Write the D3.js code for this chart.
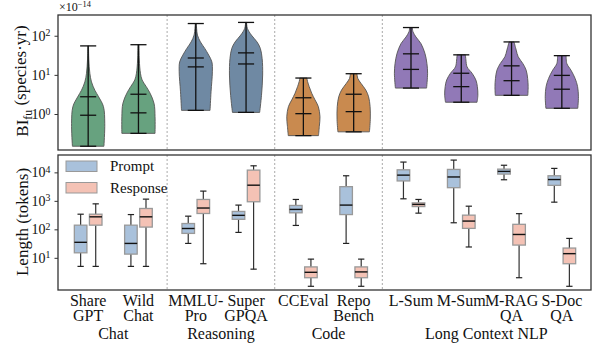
<!DOCTYPE html>
<html>
<head>
<meta charset="utf-8">
<script src="https://cdn.jsdelivr.net/npm/d3@7"></script>
<style>
  body { margin: 0; background: #fff; }
  svg { display: block; font-family: 'Liberation Serif', 'Times New Roman', serif; }
</style>
</head>
<body>
<div id="chart"></div>
<script>
// benchmark names (split over two lines) and their group
const categories = [['Share', 'GPT'], ['Wild', 'Chat'], ['MMLU-', 'Pro'], ['Super', 'GPQA'],
  ['CCEval'], ['Repo', 'Bench'], ['L-Sum'], ['M-Sum'], ['M-RAG', 'QA'], ['S-Doc', 'QA']];
const groupNames = ['Chat', 'Reasoning', 'Code', 'Long Context NLP'];
const groupOf = [0, 0, 1, 1, 2, 2, 3, 3, 3, 3];
const groupColors = ['#67a27f', '#6f89a3', '#c98a4f', '#9179b7'];

// violin outlines: [value (x1e-14 species*yr), relative density], bottom to top
const violinShape = [
  [[0.15, 0.95], [0.575, 1.0], [1.55, 0.92], [2.75, 0.63], [4.07, 0.40], [6.6, 0.20], [11, 0.10], [24, 0.04], [55, 0.02]],
  [[0.32, 1.0], [0.85, 1.0], [1.86, 0.94], [3.4, 0.70], [5.0, 0.47], [7.4, 0.22], [11, 0.12], [24, 0.05], [59, 0.03]],
  [[1.24, 0.86], [3.7, 0.92], [12, 1.0], [21.5, 0.97], [32, 0.78], [47.5, 0.54], [69.5, 0.28], [104, 0.10], [154, 0.05], [205, 0.03]],
  [[1.1, 0.82], [3.0, 0.93], [9.9, 1.0], [26, 0.97], [47.5, 0.86], [69.5, 0.66], [104, 0.32], [154, 0.08], [219, 0.03]],
  [[0.28, 0.91], [0.48, 0.96], [0.85, 1.0], [1.55, 0.9], [2.3, 0.7], [3.4, 0.5], [5.0, 0.35], [7.4, 0.23], [8.3, 0.22]],
  [[0.35, 0.95], [0.71, 1.0], [1.55, 0.99], [2.75, 0.9], [4.1, 0.73], [6.0, 0.45], [8.1, 0.25], [10.7, 0.2]],
  [[4.6, 0.94], [11, 1.0], [19.5, 0.96], [35.5, 0.84], [63, 0.6], [93, 0.3], [126, 0.12], [162, 0.08]],
  [[2.0, 0.95], [3.0, 1.0], [5.0, 0.97], [7.4, 0.88], [11, 0.65], [16, 0.35], [24, 0.28], [32.5, 0.25]],
  [[3.0, 0.98], [5.0, 1.0], [8.1, 0.97], [13.2, 0.88], [19.5, 0.68], [29, 0.4], [43, 0.28], [69.5, 0.15]],
  [[1.4, 0.96], [2.75, 1.0], [5.0, 0.95], [8.1, 0.8], [13.2, 0.55], [19.5, 0.3], [31, 0.26]]
];
const violinUpper = [2.76, 3.2, 27, 36.5, 2.6, 3.2, 34.5, 11, 17, 9.7];
const violinLower = [0.93, 1.07, 16, 19, 1.02, 1.15, 13.8, 5.0, 7.1, 4.3];

// token lengths: [whisker low, q1, median, q3, whisker high]
const promptStats = [
  [5, 15, 35, 140, 340], [5, 13.5, 32, 140, 330], [32, 72, 107, 160, 290], [78, 225, 310, 425, 710],
  [137, 380, 500, 690, 1120], [32, 330, 710, 3150, 7600], [1180, 5000, 8000, 12300, 23000],
  [170, 2900, 6900, 12700, 27000], [5500, 8700, 10800, 13000, 17800], [900, 3500, 5600, 7600, 13800]
];
const responseStats = [
  [5, 140, 275, 340, 785], [5, 120, 275, 540, 1150], [6.2, 360, 560, 1120, 2200], [4, 930, 3550, 12000, 17000],
  [1.0, 2, 3.1, 4.8, 9], [1.0, 2, 3.2, 4.8, 9], [370, 630, 750, 850, 1120],
  [24, 108, 195, 315, 650], [2, 28, 66, 150, 355], [1, 6.2, 14, 22, 48]
];
const seriesNames = ['Prompt', 'Response'];
const seriesColors = ['#a9c1db', '#f4c2b5'];

const topTicks = [1, 10, 100];
const bottomTicks = [10, 100, 1000, 10000];

const W = 597, H = 345;
const left = 58, right = 591;
const topPanel = { y0: 15, y1: 150 };
const botPanel = { y0: 155, y1: 290 };

const svg = d3.select('#chart').append('svg').attr('width', W).attr('height', H);

const xPos = categories.map((c, i) => i + groupOf[i] * 0.14);
const x = d3.scaleLinear().domain([-0.6, 10]).range([left, right]);
const yTop = d3.scaleLog().domain([10 ** -0.92, 10 ** 2.53]).range([topPanel.y1, topPanel.y0]);
const yBot = d3.scaleLog().domain([10 ** -0.13, 10 ** 4.61]).range([botPanel.y1, botPanel.y0]);

const unit = x(1) - x(0);

// dashed group separators
const seps = [];
for (let i = 1; i < categories.length; i++) {
  if (groupOf[i] !== groupOf[i - 1]) seps.push((xPos[i] + xPos[i - 1]) / 2);
}
[topPanel, botPanel].forEach((p) => {
  svg.append('g').selectAll('line').data(seps).enter().append('line')
    .attr('x1', (d) => x(d)).attr('x2', (d) => x(d))
    .attr('y1', p.y0).attr('y2', p.y1)
    .attr('stroke', '#aaa').attr('stroke-width', 1).attr('stroke-dasharray', '2,2');
});

// violins
const halfW = 0.33 * unit;
const capW = 0.16 * unit;
const vg = svg.append('g');
violinShape.forEach((shape, i) => {
  const cx = x(xPos[i]);
  const area = d3.area()
    .y((d) => yTop(d[0]))
    .x0((d) => cx - halfW * d[1])
    .x1((d) => cx + halfW * d[1])
    .curve(d3.curveCatmullRom.alpha(0.5));
  vg.append('path').attr('d', area(shape))
    .attr('fill', groupColors[groupOf[i]])
    .attr('stroke', '#555').attr('stroke-width', 0.9);
  const lo = shape[0][0], hi = shape[shape.length - 1][0];
  vg.append('line').attr('x1', cx).attr('x2', cx).attr('y1', yTop(lo)).attr('y2', yTop(hi))
    .attr('stroke', '#111').attr('stroke-width', 1.3);
  [lo, hi, violinUpper[i], violinLower[i]].forEach((v) => {
    vg.append('line').attr('x1', cx - capW).attr('x2', cx + capW)
      .attr('y1', yTop(v)).attr('y2', yTop(v))
      .attr('stroke', '#111').attr('stroke-width', 1.3);
  });
});

// box plots
const boxW = 0.25 * unit;
const boxOff = 0.15 * unit;
const bg = svg.append('g');
[promptStats, responseStats].forEach((stats, s) => {
  stats.forEach((st, i) => {
    const cx = x(xPos[i]) + (s === 0 ? -boxOff : boxOff);
    const [lo, q1, med, q3, hi] = st;
    bg.append('line').attr('x1', cx).attr('x2', cx).attr('y1', yBot(lo)).attr('y2', yBot(q1))
      .attr('stroke', '#333').attr('stroke-width', 1.2);
    bg.append('line').attr('x1', cx).attr('x2', cx).attr('y1', yBot(q3)).attr('y2', yBot(hi))
      .attr('stroke', '#333').attr('stroke-width', 1.2);
    [lo, hi].forEach((v) => {
      bg.append('line').attr('x1', cx - boxW / 4).attr('x2', cx + boxW / 4)
        .attr('y1', yBot(v)).attr('y2', yBot(v))
        .attr('stroke', '#222').attr('stroke-width', 1.2);
    });
    bg.append('rect').attr('x', cx - boxW / 2).attr('width', boxW)
      .attr('y', yBot(q3)).attr('height', yBot(q1) - yBot(q3))
      .attr('fill', seriesColors[s]).attr('stroke', '#999').attr('stroke-width', 1.3);
    bg.append('line').attr('x1', cx - boxW / 2).attr('x2', cx + boxW / 2)
      .attr('y1', yBot(med)).attr('y2', yBot(med))
      .attr('stroke', '#111').attr('stroke-width', 1.4);
  });
});

// panel frames
[topPanel, botPanel].forEach((p) => {
  svg.append('rect').attr('x', left).attr('y', p.y0)
    .attr('width', right - left).attr('height', p.y1 - p.y0)
    .attr('fill', 'none').attr('stroke', '#333').attr('stroke-width', 1.3);
});

// log axes with 10^n labels
const drawAxis = (scale, ticks) => {
  const g = svg.append('g').attr('transform', 'translate(' + left + ',0)')
    .call(d3.axisLeft(scale).tickValues(ticks).tickSize(3.5).tickPadding(4));
  g.select('.domain').remove();
  g.selectAll('.tick line').attr('stroke', '#333');
  g.selectAll('.tick text').each(function (d) {
    const t = d3.select(this);
    t.text(null).attr('font-size', 14).attr('fill', '#111')
      .attr('font-family', "'Liberation Serif', serif");
    t.append('tspan').text('10');
    t.append('tspan').attr('dy', '-0.45em').attr('font-size', '0.7em')
      .text(Math.round(Math.log10(d)));
  });
};
drawAxis(yTop, topTicks);
drawAxis(yBot, bottomTicks);

// offset text above top axis
const off = svg.append('text').attr('x', 59).attr('y', 11).attr('font-size', 12).attr('fill', '#111');
off.append('tspan').text('\u00d710');
off.append('tspan').attr('dy', '-0.45em').attr('font-size', '0.7em').text('\u221214');

// y labels
const yl1 = svg.append('text').attr('transform', 'translate(28,' + 81 + ') rotate(-90)')
  .attr('text-anchor', 'middle').attr('font-size', 17).attr('fill', '#111');
yl1.append('tspan').text('BI');
yl1.append('tspan').attr('dy', '0.3em').attr('font-size', '0.7em').text('fu');
yl1.append('tspan').attr('dy', '-0.3em').text(' (species\u00b7yr)');

svg.append('text').attr('transform', 'translate(28,' + 222 + ') rotate(-90)')
  .attr('text-anchor', 'middle').attr('font-size', 17).attr('fill', '#111')
  .text('Length (tokens)');

// category labels
const xl = svg.append('g').attr('font-size', 16).attr('fill', '#111').attr('text-anchor', 'middle');
categories.forEach((lines, i) => {
  lines.forEach((ln, j) => {
    xl.append('text').attr('x', x(xPos[i])).attr('y', 305.5 + j * 15.5).text(ln);
  });
});
groupNames.forEach((g, k) => {
  const idx = xPos.filter((p, i) => groupOf[i] === k);
  xl.append('text').attr('x', x(d3.mean(idx))).attr('y', 338.5).text(g);
});

// legend
const lg = svg.append('g');
seriesNames.forEach((name, s) => {
  const ly = 161 + s * 21.5;
  lg.append('rect').attr('x', 66).attr('y', ly).attr('width', 31).attr('height', 10.5)
    .attr('fill', seriesColors[s]).attr('stroke', '#999').attr('stroke-width', 1);
  lg.append('text').attr('x', 110).attr('y', ly + 10).attr('font-size', 15).attr('fill', '#111').text(name);
});
</script>
</body>
</html>
